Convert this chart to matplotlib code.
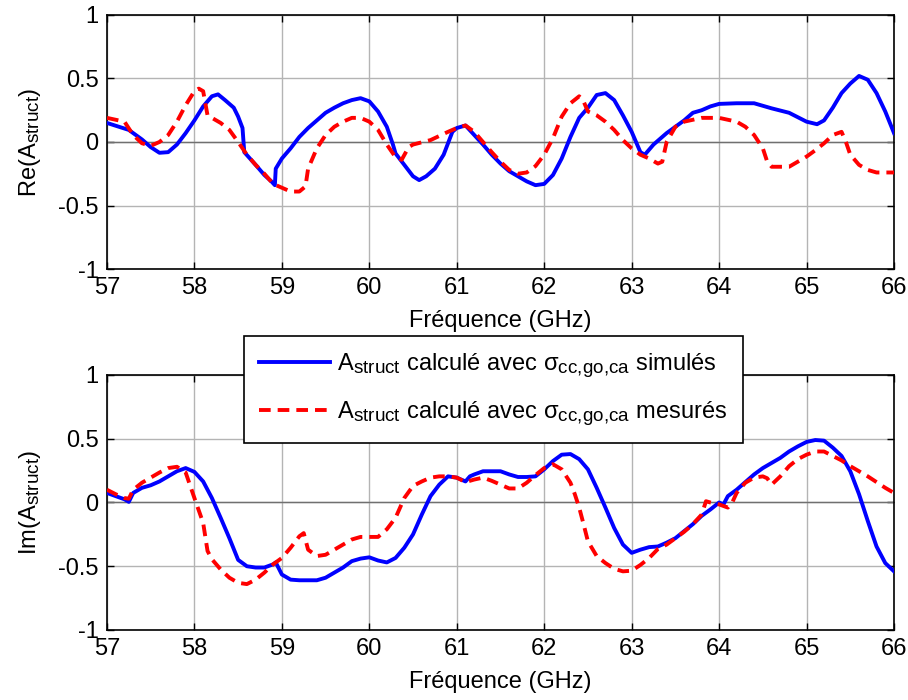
import numpy as np
import matplotlib
matplotlib.use("Agg")
import matplotlib.pyplot as plt
import matplotlib._mathtext as mathtext_internals

plt.rcParams['font.family'] = ['Liberation Sans', 'DejaVu Sans']
plt.rcParams['mathtext.fontset'] = 'custom'
plt.rcParams['mathtext.rm'] = 'Liberation Sans'
plt.rcParams['mathtext.it'] = 'Liberation Sans:italic'
# MATLAB subscripts are a bit larger than the mathtext default
mathtext_internals.SHRINK_FACTOR = 0.8

# Re(A_struct), simulated sigma (blue)
re_sim_f = [57.0, 57.25, 57.4, 57.5, 57.6, 57.7, 57.8, 57.9, 58.0, 58.1, 58.2, 58.27, 58.35,
            58.45, 58.5, 58.55, 58.57, 58.7, 58.8, 58.88, 58.92, 58.93, 59.0, 59.1, 59.2,
            59.3, 59.4, 59.5, 59.6, 59.7, 59.8, 59.9, 60.0, 60.1, 60.2, 60.27, 60.3, 60.4,
            60.5, 60.57, 60.65, 60.75, 60.85, 60.95, 61.0, 61.1, 61.2, 61.3, 61.4, 61.5,
            61.6, 61.7, 61.8, 61.9, 62.0, 62.1, 62.2, 62.3, 62.4, 62.5, 62.6, 62.7, 62.8,
            62.9, 63.0, 63.1, 63.15, 63.25, 63.4, 63.5, 63.6, 63.7, 63.8, 63.9, 64.0, 64.2,
            64.4, 64.6, 64.8, 65.0, 65.12, 65.2, 65.3, 65.4, 65.5, 65.6, 65.7, 65.8, 65.9, 66.0]
re_sim_v = [0.15, 0.095, 0.02, -0.04, -0.085, -0.08, -0.02, 0.07, 0.17, 0.28, 0.36, 0.375, 0.33,
            0.27, 0.2, 0.11, -0.08, -0.18, -0.26, -0.31, -0.34, -0.21, -0.13, -0.05, 0.04,
            0.11, 0.17, 0.23, 0.27, 0.305, 0.33, 0.345, 0.32, 0.24, 0.12, -0.02, -0.09, -0.18,
            -0.27, -0.30, -0.27, -0.21, -0.10, 0.08, 0.11, 0.13, 0.055, -0.02, -0.10, -0.17,
            -0.23, -0.27, -0.31, -0.34, -0.33, -0.26, -0.13, 0.04, 0.19, 0.27, 0.37, 0.385, 0.33,
            0.21, 0.08, -0.08, -0.10, -0.02, 0.07, 0.12, 0.17, 0.23, 0.25, 0.28, 0.30, 0.305,
            0.305, 0.265, 0.23, 0.16, 0.14, 0.17, 0.27, 0.385, 0.46, 0.52, 0.49, 0.385, 0.24, 0.07]

# Re(A_struct), measured sigma (red)
re_mes_f = [57.0, 57.2, 57.3, 57.4, 57.5, 57.6, 57.7, 57.8, 57.9, 58.0, 58.05, 58.1, 58.15,
            58.2, 58.3, 58.4, 58.5, 58.6, 58.7, 58.8, 58.9, 59.0, 59.1, 59.2, 59.27, 59.3,
            59.4, 59.5, 59.6, 59.7, 59.8, 59.9, 60.0, 60.1, 60.2, 60.3, 60.37, 60.45, 60.5,
            60.7, 60.9, 61.0, 61.1, 61.2, 61.3, 61.4, 61.5, 61.6, 61.7, 61.8, 61.9, 62.0,
            62.1, 62.2, 62.3, 62.4, 62.45, 62.5, 62.6, 62.7, 62.8, 62.9, 63.0, 63.1, 63.2,
            63.3, 63.35, 63.4, 63.5, 63.6, 63.7, 63.8, 64.0, 64.2, 64.3, 64.4, 64.5, 64.55,
            64.6, 64.8, 64.9, 65.0, 65.1, 65.2, 65.3, 65.4, 65.45, 65.5, 65.6, 65.7, 65.8, 66.0]
re_mes_v = [0.19, 0.16, 0.055, -0.01, -0.03, 0.0, 0.055, 0.16, 0.29, 0.40, 0.42, 0.40, 0.21,
            0.19, 0.15, 0.095, 0.0, -0.10, -0.18, -0.25, -0.33, -0.36, -0.39, -0.39, -0.35, -0.21,
            -0.05, 0.055, 0.12, 0.16, 0.19, 0.19, 0.16, 0.095, -0.02, -0.12, -0.14, -0.04, -0.02,
            0.015, 0.08, 0.11, 0.13, 0.08, 0.0, -0.08, -0.155, -0.22, -0.25, -0.24, -0.19, -0.10,
            0.03, 0.20, 0.305, 0.36, 0.32, 0.24, 0.21, 0.16, 0.095, 0.015, -0.05, -0.10, -0.13,
            -0.17, -0.155, 0.0, 0.12, 0.16, 0.175, 0.19, 0.19, 0.16, 0.12, 0.055, -0.05, -0.155,
            -0.195, -0.195, -0.155, -0.115, -0.065, -0.01, 0.055, 0.08, 0.0, -0.10, -0.18, -0.22, -0.24, -0.24]

# Im(A_struct), simulated sigma (blue)
im_sim_f = [57.0, 57.1, 57.2, 57.25, 57.3, 57.4, 57.5, 57.6, 57.7, 57.8, 57.9, 58.0, 58.1,
            58.2, 58.3, 58.4, 58.5, 58.6, 58.7, 58.8, 58.9, 58.93, 59.0, 59.1, 59.2, 59.4,
            59.5, 59.6, 59.7, 59.8, 59.9, 60.0, 60.1, 60.2, 60.3, 60.4, 60.5, 60.6, 60.7,
            60.8, 60.9, 61.0, 61.1, 61.15, 61.2, 61.3, 61.5, 61.6, 61.7, 61.8, 61.9, 62.0,
            62.1, 62.2, 62.3, 62.4, 62.5, 62.6, 62.7, 62.8, 62.9, 63.0, 63.1, 63.2, 63.3,
            63.4, 63.5, 63.6, 63.7, 63.8, 63.9, 64.0, 64.05, 64.1, 64.2, 64.3, 64.4, 64.5,
            64.6, 64.7, 64.8, 64.9, 65.0, 65.1, 65.2, 65.3, 65.4, 65.5, 65.6, 65.7, 65.8, 65.9, 66.0]
im_sim_v = [0.075, 0.05, 0.025, 0.005, 0.075, 0.115, 0.135, 0.165, 0.205, 0.245, 0.27, 0.24, 0.165,
            0.035, -0.12, -0.28, -0.45, -0.50, -0.51, -0.51, -0.485, -0.47, -0.565, -0.605, -0.61, -0.61,
            -0.59, -0.55, -0.51, -0.46, -0.44, -0.43, -0.455, -0.47, -0.435, -0.355, -0.25, -0.095, 0.05,
            0.14, 0.205, 0.195, 0.165, 0.205, 0.22, 0.245, 0.245, 0.22, 0.20, 0.20, 0.205, 0.26,
            0.325, 0.375, 0.38, 0.34, 0.26, 0.115, -0.04, -0.20, -0.33, -0.395, -0.37, -0.35, -0.345,
            -0.315, -0.28, -0.225, -0.17, -0.105, -0.055, 0.0, -0.015, 0.05, 0.10, 0.16, 0.22, 0.27,
            0.31, 0.35, 0.40, 0.44, 0.475, 0.49, 0.485, 0.43, 0.365, 0.245, 0.065, -0.145, -0.345, -0.475, -0.54]

# Im(A_struct), measured sigma (red)
im_mes_f = [57.0, 57.1, 57.2, 57.25, 57.3, 57.4, 57.5, 57.6, 57.7, 57.8, 57.9, 58.0, 58.1,
            58.15, 58.2, 58.3, 58.4, 58.5, 58.6, 58.7, 58.8, 58.9, 59.0, 59.1, 59.2, 59.25,
            59.3, 59.4, 59.5, 59.6, 59.7, 59.8, 59.9, 60.0, 60.1, 60.2, 60.3, 60.4, 60.5,
            60.6, 60.7, 60.8, 60.9, 61.0, 61.1, 61.2, 61.3, 61.4, 61.5, 61.6, 61.7, 61.8,
            61.9, 62.0, 62.1, 62.2, 62.3, 62.35, 62.4, 62.45, 62.5, 62.6, 62.7, 62.8, 62.9,
            63.0, 63.1, 63.2, 63.3, 63.4, 63.5, 63.6, 63.7, 63.8, 63.85, 63.9, 64.0, 64.1,
            64.15, 64.2, 64.3, 64.4, 64.5, 64.55, 64.6, 64.7, 64.8, 64.9, 65.0, 65.1, 65.2,
            65.3, 65.4, 65.5, 65.6, 65.7, 65.8, 65.9, 66.0]
im_mes_v = [0.10, 0.065, 0.035, 0.03, 0.10, 0.155, 0.195, 0.235, 0.27, 0.28, 0.235, 0.035, -0.16,
            -0.38, -0.445, -0.525, -0.59, -0.63, -0.64, -0.605, -0.55, -0.485, -0.435, -0.355, -0.265, -0.24,
            -0.37, -0.42, -0.41, -0.37, -0.33, -0.29, -0.27, -0.27, -0.27, -0.21, -0.12, 0.035, 0.13,
            0.165, 0.195, 0.205, 0.205, 0.195, 0.16, 0.18, 0.195, 0.17, 0.14, 0.11, 0.11, 0.155,
            0.215, 0.27, 0.30, 0.26, 0.155, 0.065, -0.04, -0.17, -0.305, -0.42, -0.475, -0.52, -0.54,
            -0.535, -0.49, -0.435, -0.365, -0.33, -0.28, -0.23, -0.17, -0.095, 0.01, 0.0, -0.015, -0.04,
            0.0, 0.075, 0.155, 0.195, 0.205, 0.19, 0.14, 0.205, 0.285, 0.34, 0.375, 0.40, 0.40,
            0.365, 0.33, 0.285, 0.245, 0.205, 0.16, 0.115, 0.075]

x_ticks = [57, 58, 59, 60, 61, 62, 63, 64, 65, 66]
y_ticks = [-1, -0.5, 0, 0.5, 1]
y_ticklabels = ["-1", "-0.5", "0", "0.5", "1"]

label_sim = r"A$_{\mathregular{struct}}$ calculé avec $\mathregular{σ_{cc{,}go{,}ca}}$ simulés"
label_mes = r"A$_{\mathregular{struct}}$ calculé avec $\mathregular{σ_{cc{,}go{,}ca}}$ mesurés"

FS = 17

fig = plt.figure(figsize=(9.08, 7.0), dpi=100)
ax1 = fig.add_axes([0.1178, 0.6157, 0.8668, 0.3629])
ax2 = fig.add_axes([0.1178, 0.1, 0.8668, 0.3643])

panels = [
    (ax1, re_sim_f, re_sim_v, re_mes_f, re_mes_v, r"Re(A$_{\mathregular{struct}}$)"),
    (ax2, im_sim_f, im_sim_v, im_mes_f, im_mes_v, r"Im(A$_{\mathregular{struct}}$)"),
]
for ax, fs, vs, fm, vm, ylab in panels:
    ax.grid(True, color="#b4b4b4", linewidth=1.0, zorder=0)
    ax.axhline(0, color="#707070", linewidth=1.0, zorder=1)
    ax.plot(fs, vs, color="#0000ff", linewidth=2.8, label=label_sim, zorder=3)
    ax.plot(fm, vm, color="#ff0000", linewidth=2.8, linestyle=(0, (3, 1.8)), label=label_mes, zorder=3)
    ax.set_xlim(57, 66)
    ax.set_ylim(-1, 1)
    ax.set_xticks(x_ticks)
    ax.set_yticks(y_ticks)
    ax.set_yticklabels(y_ticklabels)
    ax.tick_params(direction="in", top=True, right=True, labelsize=FS, length=5, width=1)
    ax.tick_params(axis="x", pad=6)
    ax.tick_params(axis="y", pad=6)
    ax.set_xlabel("Fréquence (GHz)", fontsize=FS, labelpad=8)
    ax.set_ylabel(ylab, fontsize=FS, labelpad=11)
    for sp in ax.spines.values():
        sp.set_linewidth(1.2)
    ax.set_axisbelow(True)

leg = fig.legend(handles=ax2.get_lines()[1:], loc="upper left",
                 bbox_to_anchor=(0.2687, 0.3757, 0.5496, 0.1443), mode="expand",
                 fontsize=FS, fancybox=False, framealpha=1, edgecolor="black",
                 handlelength=3.0, handletextpad=0.3, borderaxespad=0,
                 borderpad=0.65, labelspacing=0.8)
leg.get_frame().set_linewidth(1.2)

fig.savefig("out.png", dpi=100)
